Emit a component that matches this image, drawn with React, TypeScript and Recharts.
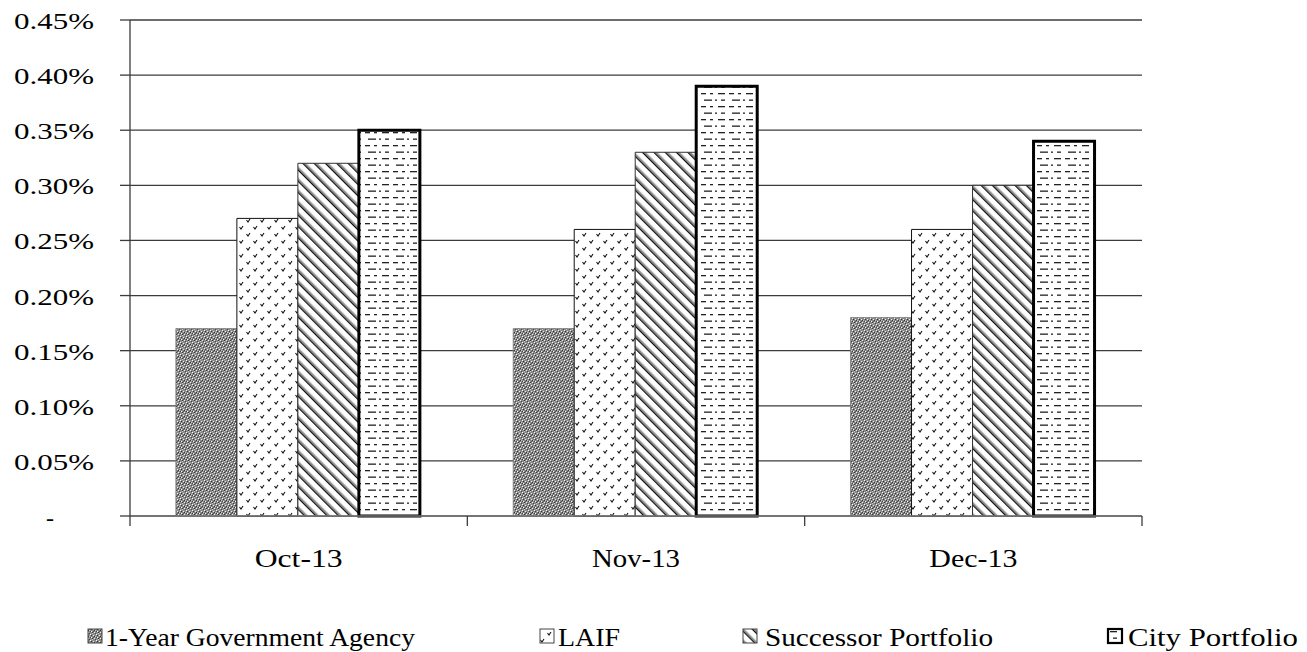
import React from "react";
import { BarChart, Bar, CartesianGrid, XAxis, YAxis } from "recharts";

const months = ["Oct-13", "Nov-13", "Dec-13"];
const agency = [0.17, 0.17, 0.18];
const laif = [0.27, 0.26, 0.26];
const successor = [0.32, 0.33, 0.30];
const city = [0.35, 0.39, 0.34];
const yTicks = [0, 0.05, 0.1, 0.15, 0.2, 0.25, 0.3, 0.35, 0.4, 0.45];

const data = months.map((m, i) => ({
  month: m,
  agency: agency[i],
  laif: laif[i],
  successor: successor[i],
  city: city[i],
}));

const W = 1307;
const H = 652;
const PLOT_LEFT = 130;
const PLOT_RIGHT = 1142;
const PLOT_TOP = 20;
const AXIS_Y = 516;
const BAND = (PLOT_RIGHT - PLOT_LEFT) / months.length;
const FONT = "Liberation Serif, Tinos, Noto Serif, DejaVu Serif, serif";
const COLOR_LINE = "#3c3c3c";

const SERIES = [
  { key: "agency", name: "1-Year Government Agency", fill: "url(#pAgency)", stroke: "#777", sw: 0.8 },
  { key: "laif", name: "LAIF", fill: "url(#pLaif)", stroke: "#111", sw: 1 },
  { key: "successor", name: "Successor Portfolio", fill: "url(#pSucc)", stroke: "#333", sw: 1 },
  { key: "city", name: "City Portfolio", fill: "url(#pCity)", stroke: "#000", sw: 3 },
];

// legend placement: swatch left edge, text left edge, text width
const LEGEND_POS = [
  { icon: 88, text: 105, len: 310 },
  { icon: 540, text: 558, len: 62 },
  { icon: 743, text: 765, len: 228 },
  { icon: 1108, text: 1128, len: 170 },
];

// shared hatch patterns (used by bars and legend swatches)
function Patterns() {
  return (
    <svg width={0} height={0} style={{ position: "absolute" }}>
      <defs>
        <pattern id="pAgency" width={6} height={6} patternUnits="userSpaceOnUse">
          <rect width={6} height={6} fill="#8a8a8a" />
          <rect x={0} y={0} width={1} height={1} fill="#fff" />
          <rect x={3} y={1} width={1} height={1} fill="#eee" />
          <rect x={1} y={3} width={1} height={1} fill="#fff" />
          <rect x={4} y={4} width={1} height={1} fill="#eee" />
          <rect x={2} y={5} width={1} height={1} fill="#ccc" />
          <rect x={5} y={2} width={1} height={1} fill="#ccc" />
          <rect x={1} y={1} width={1} height={1} fill="#333" />
          <rect x={4} y={2} width={1} height={1} fill="#333" />
          <rect x={2} y={4} width={1} height={1} fill="#333" />
          <rect x={5} y={5} width={1} height={1} fill="#444" />
          <rect x={0} y={3} width={1} height={1} fill="#444" />
          <rect x={3} y={3} width={1} height={1} fill="#555" />
        </pattern>
        <pattern id="pLaif" width={14} height={14} patternUnits="userSpaceOnUse">
          <rect width={14} height={14} fill="#fff" />
          <path d="M1.5 3 l1.5 2 l2 -3" stroke="#111" strokeWidth={1.1} fill="none" />
          <path d="M8.5 10 l1.5 2 l2 -3" stroke="#111" strokeWidth={1.1} fill="none" />
        </pattern>
        <pattern id="pSucc" width={8} height={8} patternUnits="userSpaceOnUse" patternTransform="rotate(-45)">
          <rect width={8} height={8} fill="#fff" />
          <rect x={2} y={0} width={1.6} height={8} fill="#111" />
          <rect x={3.6} y={0} width={1.6} height={8} fill="#999" />
        </pattern>
        <pattern id="pCity" width={28} height={13} patternUnits="userSpaceOnUse">
          <rect width={28} height={13} fill="#fff" />
          <rect x={1} y={2} width={5} height={1.3} fill="#222" />
          <rect x={10} y={2} width={3} height={1.3} fill="#222" />
          <rect x={18} y={2} width={7} height={1.3} fill="#222" />
          <rect x={4} y={8.5} width={8} height={1.3} fill="#222" />
          <rect x={15} y={8.5} width={2} height={1.3} fill="#222" />
          <rect x={21} y={8.5} width={4} height={1.3} fill="#222" />
        </pattern>
      </defs>
    </svg>
  );
}

function YTick({ x, y, payload }: any) {
  if (payload.value === 0) {
    return (
      <text x={50} y={y + 2} textAnchor="middle" dominantBaseline="central" fontFamily={FONT} fontSize={24} fill="#000">
        -
      </text>
    );
  }
  return (
    <text
      x={x}
      y={y + 1}
      textAnchor="end"
      dominantBaseline="central"
      fontFamily={FONT}
      fontSize={24}
      fill="#000"
      textLength={80}
      lengthAdjust="spacingAndGlyphs"
    >
      {`${payload.value.toFixed(2)}%`}
    </text>
  );
}

function XTick({ x, payload, index }: any) {
  const left = x - BAND / 2;
  const right = x + BAND / 2;
  return (
    <g>
      <line x1={left} y1={AXIS_Y} x2={left} y2={AXIS_Y + 10} stroke={COLOR_LINE} strokeWidth={1.3} />
      {index === months.length - 1 && (
        <line x1={right} y1={AXIS_Y} x2={right} y2={AXIS_Y + 10} stroke={COLOR_LINE} strokeWidth={1.3} />
      )}
      <text
        x={x}
        y={AXIS_Y + 42}
        textAnchor="middle"
        dominantBaseline="central"
        fontFamily={FONT}
        fontSize={26}
        fill="#000"
        textLength={88}
        lengthAdjust="spacingAndGlyphs"
      >
        {payload.value}
      </text>
    </g>
  );
}

export default function App() {
  return (
    <div style={{ position: "absolute", left: 0, top: 0, width: W, height: H, background: "#fff" }}>
      <Patterns />
      <BarChart
        width={W}
        height={H}
        data={data}
        margin={{ top: PLOT_TOP, right: W - PLOT_RIGHT, left: 0, bottom: 0 }}
        barCategoryGap="13.6%"
        barGap={0}
      >
        <CartesianGrid vertical={false} stroke={COLOR_LINE} strokeWidth={1.3} />
        <XAxis
          dataKey="month"
          height={H - AXIS_Y}
          axisLine={{ stroke: "#777", strokeWidth: 1.5 }}
          tickLine={false}
          tick={<XTick />}
          interval={0}
        />
        <YAxis
          width={PLOT_LEFT}
          domain={[0, 0.45]}
          ticks={yTicks}
          interval={0}
          tickSize={10}
          tickMargin={26}
          tickLine={{ stroke: COLOR_LINE, strokeWidth: 1.3 }}
          axisLine={{ stroke: COLOR_LINE, strokeWidth: 1.3 }}
          tick={<YTick />}
        />
        {SERIES.map((s) => (
          <Bar
            key={s.key}
            dataKey={s.key}
            name={s.name}
            fill={s.fill}
            stroke={s.stroke}
            strokeWidth={s.sw}
            isAnimationActive={false}
          />
        ))}
      </BarChart>
      <svg width={W} height={40} style={{ position: "absolute", left: 0, top: 616 }}>
        {SERIES.map((s, i) => (
          <g key={s.key}>
            <rect
              x={LEGEND_POS[i].icon}
              y={13}
              width={14}
              height={14}
              fill={s.fill}
              stroke={s.key === "city" ? "#000" : "#444"}
              strokeWidth={s.key === "city" ? 2.2 : 1}
            />
            <text
              x={LEGEND_POS[i].text}
              y={21}
              dominantBaseline="central"
              fontFamily={FONT}
              fontSize={26}
              fill="#000"
              textLength={LEGEND_POS[i].len}
              lengthAdjust="spacingAndGlyphs"
            >
              {s.name}
            </text>
          </g>
        ))}
      </svg>
    </div>
  );
}
